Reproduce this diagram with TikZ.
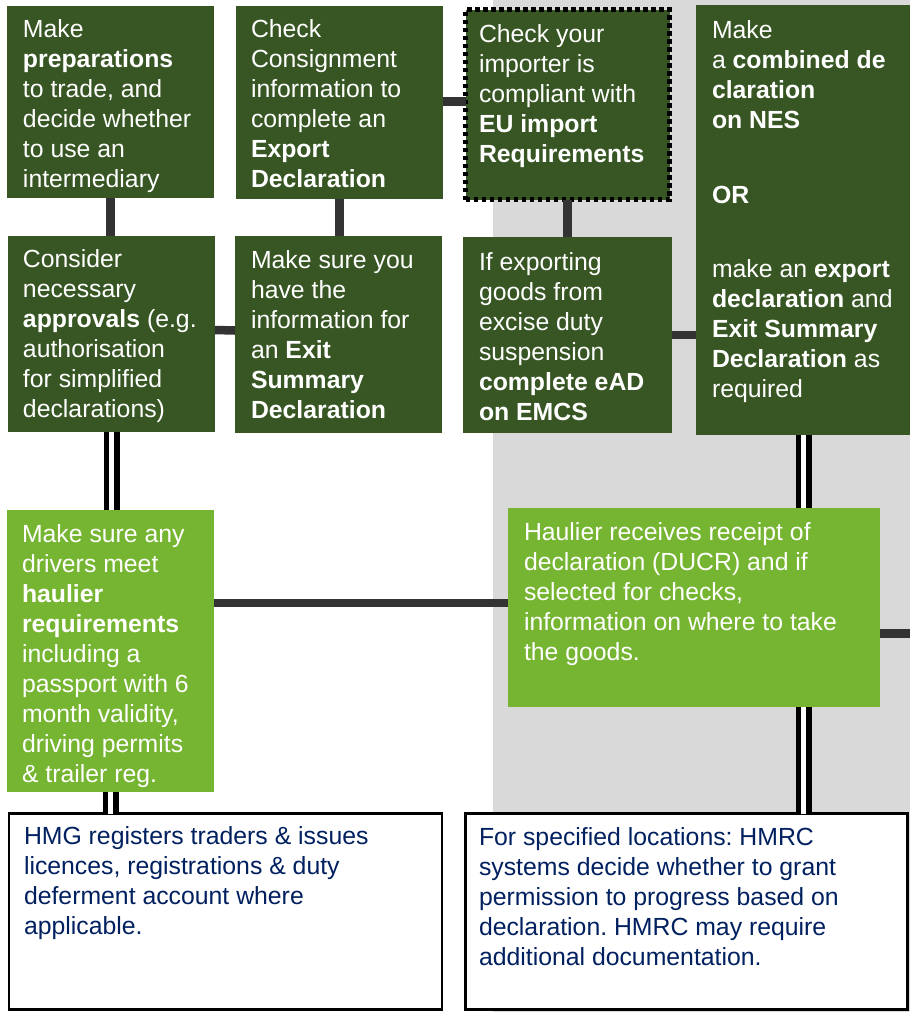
\documentclass[tikz,border=0pt]{standalone}
\usepackage{fontspec}
\setmainfont{Liberation Sans}
\usetikzlibrary{calc}
\definecolor{dkgreen}{HTML}{375623}
\definecolor{ltgreen}{HTML}{76B531}
\definecolor{bggrey}{HTML}{D9D9D9}
\definecolor{connc}{HTML}{333333}
\definecolor{navy}{HTML}{002060}
\frenchspacing
\newcommand{\boxtext}[1]{\parbox[t]{400pt}{\fontsize{24.8}{30}\selectfont\frenchspacing\raggedright #1}}
\begin{document}
\begin{tikzpicture}[x=1pt,y=-1pt,
  gbox/.style={fill=dkgreen, inner sep=0pt, outer sep=0pt, anchor=north west},
  lbox/.style={fill=ltgreen, inner sep=0pt, outer sep=0pt, anchor=north west},
  dotbox/.style={fill=dkgreen, draw=black, line width=4.5pt, dash pattern=on 4.5pt off 3.5pt, inner sep=0pt, outer sep=0pt, anchor=north west},
  wbox/.style={fill=white, draw=black, inner sep=0pt, outer sep=0pt, anchor=north west},
  txt/.style={inner sep=0pt, outer sep=0pt, anchor=base west, text=white},
  ntxt/.style={txt, text=navy},
  conn/.style={draw=connc, line width=8.5pt},
  dbl/.style={draw=black, line width=5.5pt, double=white, double distance=5pt}]
\useasboundingbox (0,0) rectangle (910,1012);
\fill[bggrey] (493,0) rectangle (910,1012);

% boxes
\node[gbox, minimum width=207pt, minimum height=192pt] (b1) at (7,6) {};
\node[gbox, minimum width=207pt, minimum height=193pt] (b2) at (236,6) {};
\node[dotbox, minimum width=204pt, minimum height=190pt] (b3) at (465.5,9.5) {};
\node[gbox, minimum width=215pt, minimum height=430pt] (b4) at (696,5) {};
\node[gbox, minimum width=207pt, minimum height=196pt] (b5) at (8,236) {};
\node[gbox, minimum width=207pt, minimum height=197pt] (b6) at (235,236) {};
\node[gbox, minimum width=209pt, minimum height=196pt] (b7) at (463,237) {};
\node[lbox, minimum width=207pt, minimum height=282pt] (b8) at (7,510) {};
\node[lbox, minimum width=372pt, minimum height=199pt] (b9) at (508,508) {};
\node[wbox, line width=2.5pt, minimum width=433pt, minimum height=196pt] (hmg) at (9,813.5) {};
\node[wbox, line width=3pt, minimum width=442pt, minimum height=196pt] (hmrc) at (465,813.5) {};

% connectors
\coordinate (edge) at (912,633.5);
\draw[conn] (b1.south) -- (b1.south |- b5.north);
\draw[conn] (b2.south) -- (b2.south |- b6.north);
\draw[conn] (b3.south) -- (b3.south |- b7.north);
\draw[conn] ([yshift=1pt]b2.east) -- ([yshift=1pt]b2.east -| b3.west);
\draw[conn] ([yshift=4pt]b5.east) -- ([yshift=4pt]b6.west);
\draw[conn] (b7.east) -- (b7.east -| b4.west);
\draw[conn] ([yshift=4.5pt]b9.west) -- ([yshift=4.5pt]b9.west -| b8.east);
\draw[conn] (b9.east |- edge) -- (edge);
\draw[dbl] (b5.south) -- (b5.south |- b8.north);
\draw[dbl] (b8.south) -- (b8.south |- hmg.north);
\draw[dbl] (b4.south) -- (b4.south |- b9.north);
\draw[dbl] (b9.south -| b4.south) -- (b4.south |- hmrc.north);

% texts
\node[txt] (t1) at (23,37.5) {\boxtext{Make\\ \textbf{preparations}\\ to trade, and\\ decide whether\\ to use an\\ intermediary}};
\node[txt] (t2) at (251,37.5) {\boxtext{Check\\ Consignment\\ information to\\ complete an\\ \textbf{Export}\\ \textbf{Declaration}}};
\node[txt] (t3) at (479,42) {\boxtext{Check your\\ importer is\\ compliant with\\ \textbf{EU import}\\ \textbf{Requirements}}};
\node[txt] (t4) at (712,38.5) {\boxtext{Make\\ a \textbf{combined de}\\ \textbf{claration}\\ \textbf{on NES}\\[45pt] \textbf{OR}\\[44pt] make an \textbf{export}\\ \textbf{declaration} and\\ \textbf{Exit Summary}\\ \textbf{Declaration} as\\ required}};
\node[txt] (t5) at (23,267.5) {\boxtext{Consider\\ necessary\\ \textbf{approvals} (e.g.\\ authorisation\\ for simplified\\ declarations)}};
\node[txt] (t6) at (251,268.5) {\boxtext{Make sure you\\ have the\\ information for\\ an \textbf{Exit}\\ \textbf{Summary}\\ \textbf{Declaration}}};
\node[txt] (t7) at (479,270) {\boxtext{If exporting\\ goods from\\ excise duty\\ suspension\\ \textbf{complete eAD}\\ \textbf{on EMCS}}};
\node[txt] (t8) at (22,542) {\boxtext{Make sure any\\ drivers meet\\ \textbf{haulier}\\ \textbf{requirements}\\ including a\\ passport with 6\\ month validity,\\ driving permits\\ \& trailer reg.}};
\node[txt] (t9) at (524,540.5) {\boxtext{Haulier receives receipt of\\ declaration (DUCR) and if\\ selected for checks,\\ information on where to take\\ the goods.}};
\node[ntxt] (t10) at (24,844) {\boxtext{HMG registers traders \& issues\\ licences, registrations \& duty\\ deferment account where\\ applicable.}};
\node[ntxt] (t11) at (479,845) {\boxtext{For specified locations: HMRC\\ systems decide whether to grant\\ permission to progress based on\\ declaration. HMRC may require\\ additional documentation.}};
\end{tikzpicture}
\end{document}
